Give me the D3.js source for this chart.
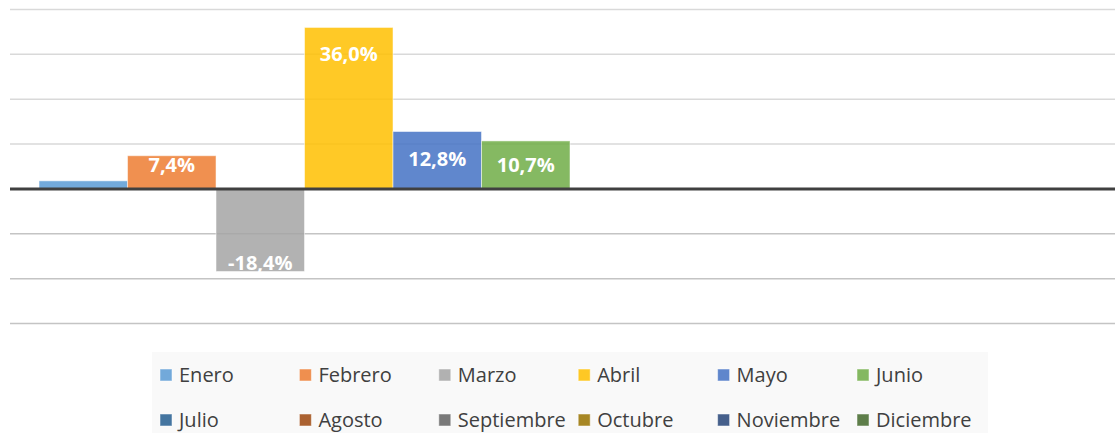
<!DOCTYPE html>
<html>
<head>
<meta charset="utf-8">
<script src="https://cdn.jsdelivr.net/npm/d3@7"></script>
<style>
    body { margin: 0; background: #ffffff; }
    svg { display: block; }
    .bar-label { font-family: "Open Sans", sans-serif; font-weight: bold; font-size: 20px; fill: #ffffff; }
    .legend-label { font-family: "Open Sans", sans-serif; font-size: 20px; fill: #404040; }
</style>
</head>
<body>
<div id="chart"></div>
<script>
'use strict';

// Chart data
const months = ['Enero', 'Febrero', 'Marzo', 'Abril', 'Mayo', 'Junio',
    'Julio', 'Agosto', 'Septiembre', 'Octubre', 'Noviembre', 'Diciembre'];
const values = [1.8, 7.4, -18.4, 36.0, 12.8, 10.7, null, null, null, null, null, null];
const gridTicks = [-30, -20, -10, 0, 10, 20, 30, 40];
const colors = ['#5B9BD5', '#ED7D31', '#A5A5A5', '#FFC000', '#4472C4', '#70AD47',
    '#255E91', '#9E480E', '#636363', '#997300', '#264478', '#43682B'];

const width = 1115, height = 433;

const svg = d3.select('#chart').append('svg')
    .attr('width', width)
    .attr('height', height);

// Scales
const scaleY = d3.scaleLinear()
    .domain([-30, 40])
    .range([323.5, 9.5]);

const scaleX = d3.scaleBand()
    .domain(months)
    .range([10, 1130])
    .paddingInner(0)
    .paddingOuter(0.328);

const color = d3.scaleOrdinal().domain(months).range(colors);

// Gridlines
svg.append('g').selectAll('line.grid')
    .data(gridTicks.filter(d => d !== 0))
    .join('line')
    .classed('grid', true)
    .attr('x1', 10)
    .attr('x2', width)
    .attr('y1', d => scaleY(d))
    .attr('y2', d => scaleY(d))
    .attr('stroke', d => d > 0 ? '#d9d9d9' : '#c4c4c4')
    .attr('stroke-width', 1.5);

// Bars
const barData = months.map((m, i) => ({ month: m, value: values[i] }))
    .filter(d => d.value !== null);

svg.append('g').selectAll('rect.bar')
    .data(barData)
    .join('rect')
    .classed('bar', true)
    .attr('x', d => scaleX(d.month))
    .attr('width', scaleX.bandwidth())
    .attr('y', d => scaleY(Math.max(0, d.value)))
    .attr('height', d => Math.abs(scaleY(d.value) - scaleY(0)))
    .attr('fill', d => color(d.month))
    .attr('fill-opacity', 0.85)
    .attr('stroke', '#ffffff')
    .attr('stroke-opacity', 0.5)
    .attr('stroke-width', 1);

// Zero line
svg.append('line')
    .attr('x1', 10)
    .attr('x2', width)
    .attr('y1', scaleY(0))
    .attr('y2', scaleY(0))
    .attr('stroke', '#404040')
    .attr('stroke-width', 3);

// Value labels (inside end)
const fmt = v => v.toFixed(1).replace('.', ',') + '%';
svg.append('g').selectAll('text.bar-label')
    .data(barData.filter(d => Math.abs(d.value) >= 5))
    .join('text')
    .classed('bar-label', true)
    .attr('x', d => scaleX(d.month) + scaleX.bandwidth() / 2)
    .attr('y', d => d.value > 0
        ? Math.min(scaleY(d.value) + 27, scaleY(0) - 24)
        : scaleY(d.value) - 8)
    .attr('dy', '0.35em')
    .attr('text-anchor', 'middle')
    .text(d => fmt(d.value));

// Legend
const legend = svg.append('g');

legend.append('rect')
    .attr('x', 152)
    .attr('y', 352)
    .attr('width', 836)
    .attr('height', 90)
    .attr('fill', '#f9f9f9');

const items = legend.selectAll('g.legend-item')
    .data(months)
    .join('g')
    .classed('legend-item', true)
    .attr('transform', (d, i) => `translate(${160 + (i % 6) * 139.4}, ${375 + Math.floor(i / 6) * 45})`);

items.append('rect')
    .attr('x', 0)
    .attr('y', -6)
    .attr('width', 12)
    .attr('height', 12)
    .attr('fill', d => color(d))
    .attr('fill-opacity', 0.85)
    .attr('stroke', '#ffffff')
    .attr('stroke-opacity', 0.5);

items.append('text')
    .classed('legend-label', true)
    .attr('x', 19)
    .attr('y', 0)
    .attr('dy', '0.35em')
    .text(d => d);
</script>
</body>
</html>
